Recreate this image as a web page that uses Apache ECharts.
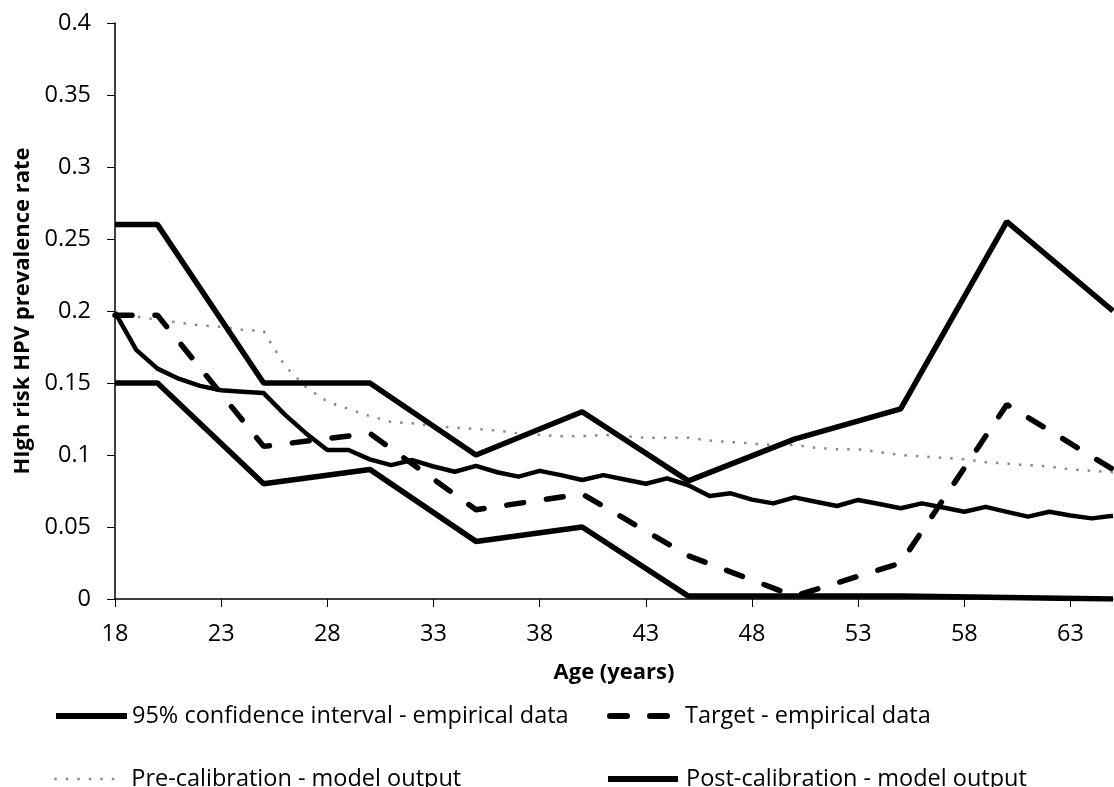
<!DOCTYPE html>
<html>
<head>
<meta charset="utf-8">
<script src="https://cdn.jsdelivr.net/npm/echarts@6/dist/echarts.min.js"></script>
<style>
    html, body { margin: 0; padding: 0; background: #fff; }
    #chart { width: 1114px; height: 787px; }
</style>
</head>
<body>
<div id="chart"></div>
<script>
// ages of the model output (one value per year)
const modelAges = [18, 19, 20, 21, 22, 23, 24, 25, 26, 27, 28, 29, 30, 31, 32, 33,
    34, 35, 36, 37, 38, 39, 40, 41, 42, 43, 44, 45, 46, 47, 48, 49,
    50, 51, 52, 53, 54, 55, 56, 57, 58, 59, 60, 61, 62, 63, 64, 65]

// ages of the empirical points
const empiricalAges = [18, 20, 25, 30, 35, 40, 45, 50, 55, 60, 65]

const ciUpper = [0.26, 0.26, 0.15, 0.15, 0.10, 0.13, 0.082, 0.111, 0.132, 0.262, 0.20]
const ciLower = [0.15, 0.15, 0.08, 0.09, 0.04, 0.05, 0.002, 0.002, 0.002, 0.001, 0.0]
const target = [0.197, 0.197, 0.106, 0.115, 0.062, 0.073, 0.030, 0.002, 0.025, 0.135, 0.090]

const preCalibration = [0.197, 0.196, 0.194, 0.192, 0.190, 0.189, 0.187, 0.186, 0.162, 0.147, 0.137, 0.132,
    0.127, 0.123, 0.122, 0.120, 0.119, 0.118, 0.117, 0.115, 0.114, 0.113, 0.113, 0.114,
    0.113, 0.112, 0.112, 0.112, 0.110, 0.109, 0.108, 0.107, 0.107, 0.105, 0.104, 0.104,
    0.102, 0.100, 0.099, 0.098, 0.097, 0.095, 0.094, 0.093, 0.092, 0.090, 0.089, 0.088]

const postCalibration = [0.199, 0.173, 0.160, 0.153, 0.148, 0.145, 0.144, 0.143, 0.128, 0.115, 0.1035, 0.1035,
    0.097, 0.093, 0.0965, 0.092, 0.0884, 0.0924, 0.088, 0.085, 0.089, 0.086, 0.0826, 0.086,
    0.083, 0.080, 0.0838, 0.079, 0.0715, 0.0734, 0.069, 0.0664, 0.0706, 0.0675, 0.0646, 0.0688,
    0.066, 0.063, 0.0664, 0.0635, 0.0606, 0.064, 0.0605, 0.0572, 0.0606, 0.058, 0.056, 0.0578]

const ageTicks = [18, 23, 28, 33, 38, 43, 48, 53, 58, 63]

const names = {
    ci: '95% confidence interval - empirical data',
    target: 'Target - empirical data',
    pre: 'Pre-calibration - model output',
    post: 'Post-calibration - model output'
}

const font = 'Open Sans'
const pairs = (xs, ys) => xs.map((x, i) => [x, ys[i]])

const myChart = echarts.init(document.getElementById('chart'))

const legendText = { fontFamily: font, fontSize: 23.5, color: '#000' }

// one legend per entry so each can sit where the original put it
const makeLegend = (name, left, top, itemWidth, lineStyle, gap) => ({
    data: [name],
    left: left,
    top: top,
    padding: 0,
    itemWidth: itemWidth,
    itemHeight: 14,
    selectedMode: false,
    itemStyle: { opacity: 0 },
    lineStyle: lineStyle,
    textStyle: { ...legendText, padding: [0, 0, 0, gap] }
})

const option = {
    animation: false,
    backgroundColor: '#fff',
    grid: {
        left: 115,
        right: 1,
        top: 23,
        bottom: 188
    },
    legend: [
        makeLegend(names.ci, 53, 704, 71, { width: 6, color: '#000', type: 'solid' }, 0),
        makeLegend(names.target, 607, 704, 61, { width: 6, color: '#000', type: [17, 23], cap: 'round' }, 9),
        makeLegend(names.pre, 53, 767, 61, { width: 2.5, color: '#8a8a8a', type: [2.5, 9] }, 11),
        makeLegend(names.post, 605, 767, 70, { width: 6, color: '#000', type: 'solid' }, 3)
    ],
    xAxis: {
        type: 'value',
        min: 18,
        max: 65,
        name: 'Age (years)',
        nameLocation: 'middle',
        nameGap: 63,
        nameTextStyle: { fontFamily: font, fontSize: 22, fontWeight: 'bold', color: '#000' },
        axisLine: { lineStyle: { color: '#000', width: 1.5 } },
        axisTick: { show: true, length: 8, customValues: ageTicks, lineStyle: { color: '#000' } },
        axisLabel: { customValues: ageTicks, margin: 23, fontFamily: font, fontSize: 23.5, color: '#000' },
        splitLine: { show: false }
    },
    yAxis: {
        type: 'value',
        min: 0,
        max: 0.4,
        interval: 0.05,
        name: 'HIgh risk HPV prevalence rate',
        nameLocation: 'middle',
        nameRotate: 90,
        nameGap: 80,
        nameTextStyle: { fontFamily: font, fontSize: 22, fontWeight: 'bold', color: '#000' },
        axisLine: { show: true, lineStyle: { color: '#000', width: 1.5 } },
        axisTick: { show: true, length: 8, lineStyle: { color: '#000' } },
        axisLabel: { margin: 24, fontFamily: font, fontSize: 23.5, color: '#000' },
        splitLine: { show: false }
    },
    series: [
        {
            name: names.pre,
            type: 'line',
            symbol: 'none',
            z: 1,
            itemStyle: { color: '#8a8a8a' },
            lineStyle: { color: '#8a8a8a', width: 2.5, type: [2.5, 9] },
            data: pairs(modelAges, preCalibration)
        },
        {
            name: names.post,
            type: 'line',
            symbol: 'none',
            z: 2,
            itemStyle: { color: '#000' },
            lineStyle: { color: '#000', width: 4.5, join: 'round' },
            data: pairs(modelAges, postCalibration)
        },
        {
            name: names.target,
            type: 'line',
            symbol: 'none',
            z: 3,
            itemStyle: { color: '#000' },
            lineStyle: { color: '#000', width: 5.5, type: [17, 23], cap: 'round' },
            data: pairs(empiricalAges, target)
        },
        {
            name: names.ci,
            type: 'line',
            symbol: 'none',
            z: 4,
            itemStyle: { color: '#000' },
            lineStyle: { color: '#000', width: 5.5 },
            data: pairs(empiricalAges, ciUpper)
        },
        {
            name: names.ci,
            type: 'line',
            symbol: 'none',
            z: 4,
            itemStyle: { color: '#000' },
            lineStyle: { color: '#000', width: 5.5 },
            data: pairs(empiricalAges, ciLower)
        }
    ]
}

myChart.setOption(option)
window.addEventListener('resize', myChart.resize)
</script>
</body>
</html>
